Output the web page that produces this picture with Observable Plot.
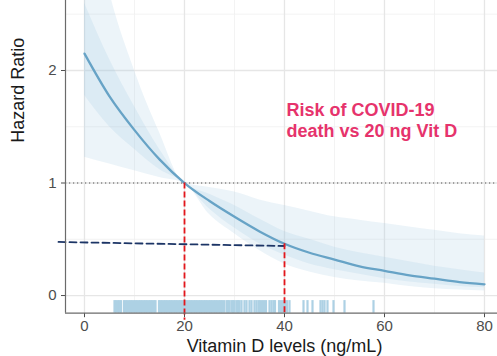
<!DOCTYPE html>
<html>
<head>
<meta charset="utf-8">
<script src="https://cdn.jsdelivr.net/npm/d3@7"></script>
<script src="https://cdn.jsdelivr.net/npm/@observablehq/plot@0.6"></script>
<style>
  html, body { margin: 0; padding: 0; background: #fff; }
</style>
</head>
<body>
<div id="chart"></div>
<script>
// Vitamin D level (ng/mL)
const vitD = [0, 5, 10, 15, 20, 25, 30, 35, 40, 45, 50, 55, 60, 65, 70, 75, 80];
// Hazard ratio vs 20 ng/mL
const hazard = [2.15, 1.77, 1.47, 1.21, 1.0, 0.84, 0.70, 0.57, 0.46, 0.38, 0.32, 0.26, 0.22, 0.18, 0.15, 0.12, 0.10];
// outer confidence band
const outerLow  = [1.23, 1.17, 1.11, 1.05, 1.0, 0.72, 0.55, 0.40, 0.28, 0.21, 0.16, 0.13, 0.11, 0.08, 0.06, 0.05, 0.04];
const outerHigh = [3.8, 2.7, 2.0, 1.45, 1.0, 0.96, 0.92, 0.85, 0.80, 0.75, 0.70, 0.67, 0.64, 0.61, 0.58, 0.55, 0.53];
// inner confidence band
const innerLow  = [1.78, 1.50, 1.30, 1.12, 1.0, 0.77, 0.60, 0.46, 0.36, 0.28, 0.23, 0.19, 0.15, 0.12, 0.10, 0.08, 0.07];
const innerHigh = [2.6, 2.1, 1.68, 1.30, 1.0, 0.90, 0.80, 0.68, 0.57, 0.50, 0.43, 0.38, 0.34, 0.30, 0.26, 0.23, 0.20];
// observed vitamin D values (rug)
const rugValues = [6.0,6.3,6.7,7.0,7.3,7.9,8.2,8.5,8.9,9.2,9.5,9.9,10.2,10.5,10.9,11.2,11.5,11.9,12.2,12.5,12.9,13.2,13.5,13.9,14.2,14.9,15.2,15.5,15.9,16.2,16.5,16.9,17.2,17.5,17.9,18.2,18.5,18.9,19.2,19.5,19.9,20.2,20.5,20.9,21.2,21.5,21.9,22.2,22.5,22.9,23.2,23.5,23.9,24.2,24.5,24.9,25.2,25.5,25.9,26.2,26.5,26.9,27.2,27.5,27.9,28.4,28.7,29.0,29.4,29.7,30.0,30.4,30.7,31.0,31.4,32.0,32.4,33.0,33.4,34.0,34.4,34.8,35.1,35.5,35.9,36.3,37.0,37.4,37.8,38.1,38.9,39.3,39.7,40.1,40.5,41.0,43.8,44.6,45.6,47.2,47.6,48.0,48.6,49.8,52.0,57.8];
// axis ticks
const xTicks = [0, 20, 40, 60, 80];
const xMinor = [10, 30, 50, 70];
const yTicks = [0, 1, 2];
const yMinor = [0.5, 1.5, 2.5];
// reference lines
const refX = [20, 40];
const refHR = [1.0, 0.46];
const navyLine = [{x: -5.2, y: 0.476}, {x: 40, y: 0.44}];
const annotation = "Risk of COVID-19\ndeath vs 20 ng Vit D";
const xLabel = "Vitamin D levels (ng/mL)";
const yLabel = "Hazard Ratio";

const table = vitD.map((x, i) => ({
  x, hr: hazard[i],
  oLo: outerLow[i], oHi: outerHigh[i],
  iLo: innerLow[i], iHi: innerHigh[i]
}));

const yBottom = -0.157;
const font = "'Liberation Sans', Arial, sans-serif";

const chart = Plot.plot({
  width: 497,
  height: 356,
  marginTop: 0,
  marginRight: 0,
  marginBottom: 43.3,
  marginLeft: 65,
  style: {fontFamily: font, fontSize: "15px", color: "#4d4d4d", background: "#fff"},
  x: {domain: [-3.8, 82.6], ticks: xTicks, tickSize: 4.5, tickPadding: 3, label: null, tickFormat: d => String(d)},
  y: {domain: [yBottom, 2.622], ticks: yTicks, tickSize: 4, tickPadding: 5, label: null, tickFormat: d => String(d)},
  marks: [
    Plot.ruleX(xMinor, {stroke: "#f0f0f0", strokeWidth: 0.8}),
    Plot.ruleY(yMinor, {stroke: "#f0f0f0", strokeWidth: 0.8}),
    Plot.ruleX(xTicks, {stroke: "#e6e6e6", strokeWidth: 1.3}),
    Plot.ruleY(yTicks, {stroke: "#e6e6e6", strokeWidth: 1.3}),
    Plot.ruleX(rugValues, {y1: yBottom, y2: -0.045, stroke: "#add1e4", strokeWidth: 2.2}),
    Plot.areaY(table, {x: "x", y1: "oLo", y2: "oHi", fill: "#9ecae1", fillOpacity: 0.2, curve: "monotone-x", clip: true}),
    Plot.areaY(table, {x: "x", y1: "iLo", y2: "iHi", fill: "#9ecae1", fillOpacity: 0.2, curve: "monotone-x", clip: true}),
    Plot.ruleY([1], {stroke: "#555", strokeWidth: 1.1, strokeDasharray: "1.2,2.8"}),
    Plot.line(table, {x: "x", y: "hr", stroke: "#67a3c6", strokeWidth: 2.3, curve: "monotone-x"}),
    Plot.line(navyLine, {x: "x", y: "y", stroke: "#1c3566", strokeWidth: 1.8, strokeDasharray: "7,4"}),
    Plot.ruleX(refX, {x: d => d, y1: (d, i) => refHR[i], y2: (d, i) => i === 0 ? -0.22 : yBottom, stroke: "#e3171c", strokeWidth: 1.8, strokeDasharray: "6,3"}),
    Plot.ruleX([-3.8], {y1: yBottom, y2: 2.622, stroke: "#6b6b6b", strokeWidth: 1.2}),
    Plot.ruleY([yBottom], {stroke: "#6b6b6b", strokeWidth: 1.2}),
    Plot.text([annotation], {x: 40.4, y: 1.56, text: d => d, textAnchor: "start", lineAnchor: "middle", lineHeight: 1.17, fontSize: 18, fontWeight: "bold", fill: "#e6336c"}),
    Plot.text([xLabel], {frameAnchor: "bottom", text: d => d, dx: 3, dy: 39, fontSize: 18, fill: "#1a1a1a"}),
    Plot.text([yLabel], {frameAnchor: "left", text: d => d, rotate: -90, dx: -47, dy: -14, fontSize: 18, fill: "#1a1a1a"})
  ]
});
document.getElementById("chart").appendChild(chart);
</script>
</body>
</html>
